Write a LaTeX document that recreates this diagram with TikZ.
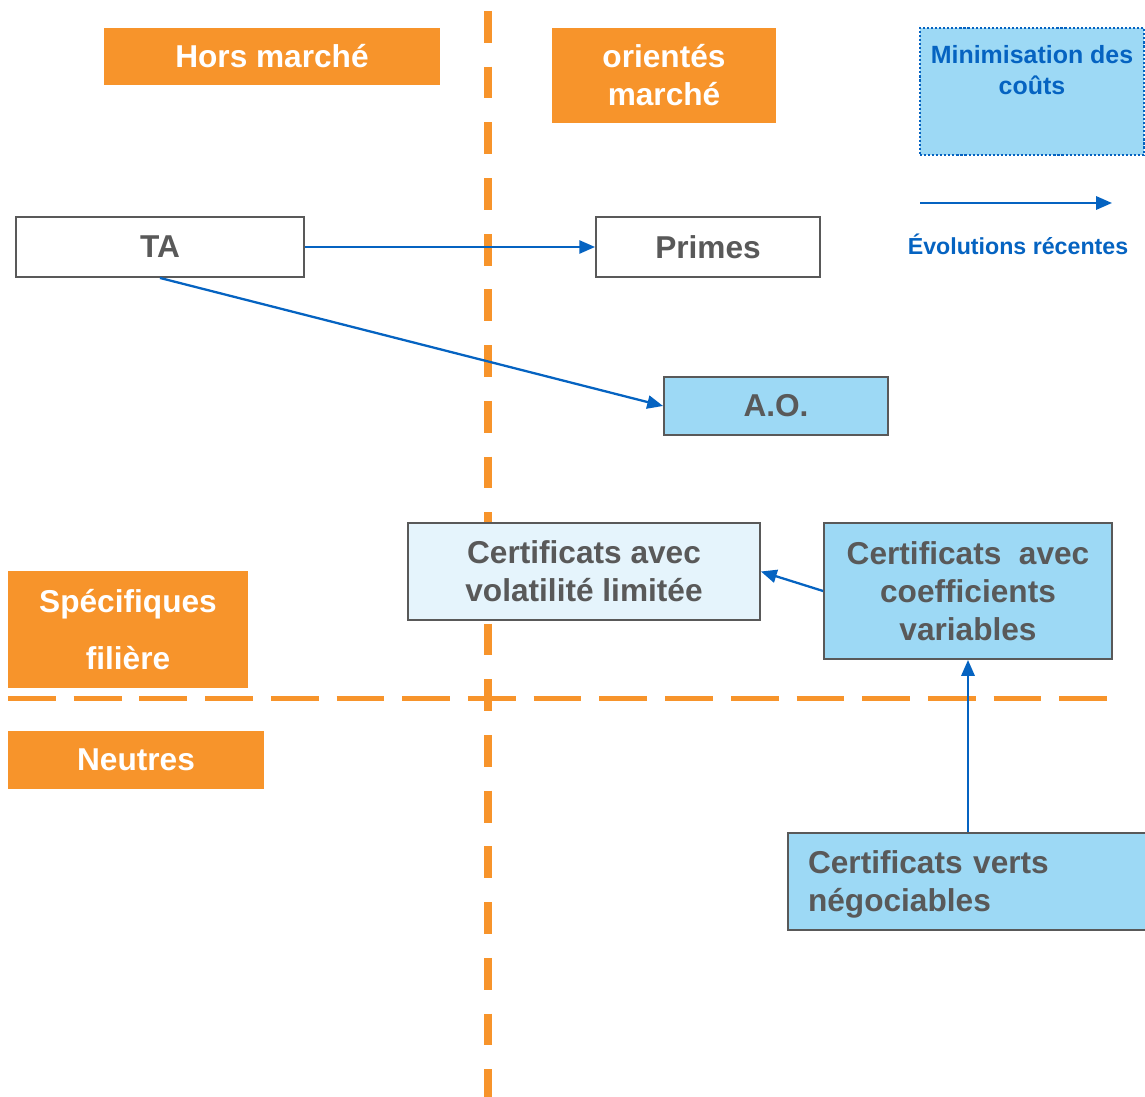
\documentclass[tikz,border=0pt]{standalone}
\usepackage{fontspec}
\setmainfont{Liberation Sans}
\usetikzlibrary{arrows.meta}
\definecolor{orangeFr}{HTML}{F7942B}
\definecolor{bleuClair}{HTML}{9DD9F5}
\definecolor{bleuPale}{HTML}{E5F4FC}
\definecolor{bleuFleche}{HTML}{0563C1}
\definecolor{grisTexte}{HTML}{595959}

\begin{document}
\begin{tikzpicture}[x=0.02cm, y=-0.02cm, inner sep=0pt,
    titre/.style={fill=orangeFr, text=white, font=\fontsize{18}{21.6}\selectfont\bfseries, align=center},
    boite/.style={draw=grisTexte, line width=1.1pt, text=grisTexte, font=\fontsize{18}{21.6}\selectfont\bfseries, align=center},
    evol/.style={draw=bleuFleche, line width=1.3pt, -{Triangle[length=9pt,width=7.5pt]}},
    axe/.style={draw=orangeFr, line cap=butt}]
  \clip (0,0) rectangle (1145,1097);
  % axes en pointilles
  \draw[axe, line width=4.5pt, dash pattern=on 18.1pt off 13.6pt] (488,11) -- (488,1100);
  \draw[axe, line width=3.4pt, dash pattern=on 27.2pt off 10.2pt] (8,698.5) -- (1112,698.5);
  %
  \path node (hors)    at (272,56.5)  [titre, minimum width=6.72cm, minimum height=1.14cm] {Hors march\'e}
        node (orient)  at (664,75.5)  [titre, minimum width=4.48cm, minimum height=1.9cm] {orient\'es\\march\'e}
        node (spec)    at (128,629.5) [titre, minimum width=4.8cm, minimum height=2.34cm,
                                       font=\fontsize{18}{32}\selectfont\bfseries] {Sp\'ecifiques\\fili\`ere}
        node (neutres) at (136,760)   [titre, minimum width=5.12cm, minimum height=1.16cm] {Neutres}
        %
        node (mini)    at (1032,91.5) [draw=bleuFleche, fill=bleuClair, line width=1.1pt,
                                       dash pattern=on 1.2pt off 1.1pt, minimum width=4.48cm, minimum height=2.54cm] {}
        node (minitxt) at (1032,70)   [text=bleuFleche, align=center,
                                       font=\fontsize{14.2}{18}\selectfont\bfseries] {Minimisation des\\co\^uts}
        coordinate (legA) at (920,203)
        coordinate (legB) at (1112,203)
        node (legtxt)  at (1018,244)  [text=bleuFleche, font=\fontsize{13.2}{15}\selectfont\bfseries] {\'Evolutions r\'ecentes}
        %
        node (ta)      at (160,247)   [boite, fill=white, minimum width=5.76cm, minimum height=1.2cm] {TA}
        node (primes)  at (708,247)   [boite, fill=white, minimum width=4.48cm, minimum height=1.2cm] {Primes}
        node (ao)      at (776,406)   [boite, fill=bleuClair, minimum width=4.48cm, minimum height=1.16cm] {A.O.}
        node (vol)     at (584,571.5) [boite, fill=bleuPale, minimum width=7.04cm, minimum height=1.94cm] {Certificats avec\\volatilit\'e limit\'ee}
        node (coef)    at (968,591)   [boite, fill=bleuClair, minimum width=5.76cm, minimum height=2.72cm] {Certificats\ \ avec\\coefficients\\variables}
        node (cvn)     at (974,881.5) [boite, fill=bleuClair, minimum height=1.94cm, text width=6.64cm,
                                       inner xsep=0.4cm, align=left] {\rule{0pt}{16pt}Certificats verts\\n\'egociables};
  %
  \draw[evol] (legA) -- (legB);
  \draw[evol] (ta.east) -- (primes.west);
  \draw[evol] (ta.south) -- (ao.west);
  \draw[evol] (coef.west) -- (vol.east);
  \draw[evol] (cvn.north -| coef.south) -- (coef.south);
\end{tikzpicture}
\end{document}
